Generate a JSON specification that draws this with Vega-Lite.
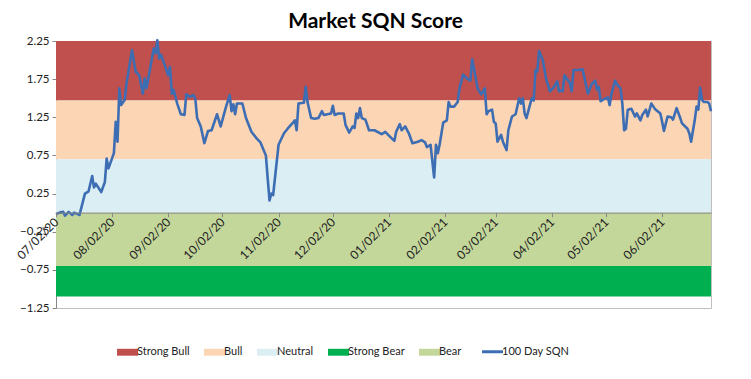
{
  "$schema": "https://vega.github.io/schema/vega-lite/v6.json",
  "width": 655,
  "height": 267,
  "autosize": {"type": "none"},
  "padding": {"left": 56, "top": 41, "right": 40, "bottom": 71},
  "background": "white",
  "config": {"font": "Lato", "view": {"stroke": "#BFBFBF"}},
  "title": {"text": "Market SQN Score", "fontSize": 21, "fontWeight": "bold", "color": "#000000", "offset": 3, "dx": -8},
  "datasets": {
    "bands": [
      {"zone": "Strong Bull", "top": 2.25, "bottom": 1.47},
      {"zone": "Bull", "top": 1.47, "bottom": 0.70},
      {"zone": "Neutral", "top": 0.70, "bottom": 0},
      {"zone": "Strong Bear", "top": -0.70, "bottom": -1.10},
      {"zone": "Bear", "top": 0, "bottom": -0.70}
    ],
    "sqn": [
      {"date": "2020-07-02", "sqn": -0.02}, {"date": "2020-07-04", "sqn": 0.00}, {"date": "2020-07-06", "sqn": 0.01},
      {"date": "2020-07-07", "sqn": -0.04}, {"date": "2020-07-09", "sqn": 0.01}, {"date": "2020-07-11", "sqn": -0.03},
      {"date": "2020-07-12", "sqn": 0.00}, {"date": "2020-07-14", "sqn": -0.02}, {"date": "2020-07-15", "sqn": -0.03},
      {"date": "2020-07-18", "sqn": 0.25}, {"date": "2020-07-20", "sqn": 0.28}, {"date": "2020-07-22", "sqn": 0.48},
      {"date": "2020-07-23", "sqn": 0.33}, {"date": "2020-07-24", "sqn": 0.38}, {"date": "2020-07-27", "sqn": 0.27},
      {"date": "2020-07-29", "sqn": 0.40}, {"date": "2020-07-30", "sqn": 0.71}, {"date": "2020-07-31", "sqn": 0.58},
      {"date": "2020-08-03", "sqn": 0.78}, {"date": "2020-08-04", "sqn": 1.19}, {"date": "2020-08-05", "sqn": 0.93},
      {"date": "2020-08-06", "sqn": 1.63}, {"date": "2020-08-07", "sqn": 1.41}, {"date": "2020-08-09", "sqn": 1.48},
      {"date": "2020-08-10", "sqn": 1.70}, {"date": "2020-08-13", "sqn": 2.13}, {"date": "2020-08-15", "sqn": 1.85},
      {"date": "2020-08-17", "sqn": 1.80}, {"date": "2020-08-19", "sqn": 1.56}, {"date": "2020-08-20", "sqn": 1.76},
      {"date": "2020-08-21", "sqn": 1.63}, {"date": "2020-08-23", "sqn": 1.89}, {"date": "2020-08-25", "sqn": 2.15},
      {"date": "2020-08-26", "sqn": 2.09}, {"date": "2020-08-27", "sqn": 2.26}, {"date": "2020-08-28", "sqn": 2.02},
      {"date": "2020-08-29", "sqn": 2.07}, {"date": "2020-08-31", "sqn": 1.94}, {"date": "2020-09-02", "sqn": 1.80},
      {"date": "2020-09-03", "sqn": 1.91}, {"date": "2020-09-04", "sqn": 1.56}, {"date": "2020-09-05", "sqn": 1.61},
      {"date": "2020-09-07", "sqn": 1.43}, {"date": "2020-09-09", "sqn": 1.29}, {"date": "2020-09-11", "sqn": 1.28},
      {"date": "2020-09-12", "sqn": 1.55}, {"date": "2020-09-14", "sqn": 1.52}, {"date": "2020-09-16", "sqn": 1.54},
      {"date": "2020-09-17", "sqn": 1.49}, {"date": "2020-09-18", "sqn": 1.24}, {"date": "2020-09-20", "sqn": 1.13},
      {"date": "2020-09-22", "sqn": 0.91}, {"date": "2020-09-24", "sqn": 1.07}, {"date": "2020-09-26", "sqn": 1.08},
      {"date": "2020-09-29", "sqn": 1.29}, {"date": "2020-10-01", "sqn": 1.13}, {"date": "2020-10-04", "sqn": 1.39},
      {"date": "2020-10-06", "sqn": 1.54}, {"date": "2020-10-07", "sqn": 1.33}, {"date": "2020-10-08", "sqn": 1.42},
      {"date": "2020-10-09", "sqn": 1.29}, {"date": "2020-10-10", "sqn": 1.43}, {"date": "2020-10-13", "sqn": 1.43},
      {"date": "2020-10-15", "sqn": 1.24}, {"date": "2020-10-18", "sqn": 1.06}, {"date": "2020-10-21", "sqn": 0.97},
      {"date": "2020-10-23", "sqn": 0.92}, {"date": "2020-10-26", "sqn": 0.75}, {"date": "2020-10-27", "sqn": 0.45},
      {"date": "2020-10-28", "sqn": 0.16}, {"date": "2020-10-29", "sqn": 0.25}, {"date": "2020-10-30", "sqn": 0.23},
      {"date": "2020-11-02", "sqn": 0.89}, {"date": "2020-11-05", "sqn": 1.04}, {"date": "2020-11-07", "sqn": 1.10},
      {"date": "2020-11-10", "sqn": 1.18}, {"date": "2020-11-11", "sqn": 1.21}, {"date": "2020-11-12", "sqn": 1.08},
      {"date": "2020-11-13", "sqn": 1.43}, {"date": "2020-11-16", "sqn": 1.44}, {"date": "2020-11-17", "sqn": 1.65},
      {"date": "2020-11-18", "sqn": 1.45}, {"date": "2020-11-20", "sqn": 1.24}, {"date": "2020-11-22", "sqn": 1.23},
      {"date": "2020-11-24", "sqn": 1.24}, {"date": "2020-11-26", "sqn": 1.33}, {"date": "2020-11-27", "sqn": 1.28},
      {"date": "2020-11-29", "sqn": 1.29}, {"date": "2020-12-01", "sqn": 1.30}, {"date": "2020-12-02", "sqn": 1.40},
      {"date": "2020-12-03", "sqn": 1.28}, {"date": "2020-12-05", "sqn": 1.30}, {"date": "2020-12-08", "sqn": 1.30},
      {"date": "2020-12-09", "sqn": 1.15}, {"date": "2020-12-11", "sqn": 1.05}, {"date": "2020-12-13", "sqn": 1.13},
      {"date": "2020-12-14", "sqn": 1.11}, {"date": "2020-12-15", "sqn": 1.30}, {"date": "2020-12-16", "sqn": 1.24},
      {"date": "2020-12-17", "sqn": 1.37}, {"date": "2020-12-18", "sqn": 1.24}, {"date": "2020-12-20", "sqn": 1.22},
      {"date": "2020-12-22", "sqn": 1.08}, {"date": "2020-12-25", "sqn": 1.08}, {"date": "2020-12-29", "sqn": 1.03},
      {"date": "2020-12-31", "sqn": 1.06}, {"date": "2021-01-02", "sqn": 1.01}, {"date": "2021-01-05", "sqn": 0.94},
      {"date": "2021-01-06", "sqn": 1.06}, {"date": "2021-01-08", "sqn": 1.16}, {"date": "2021-01-09", "sqn": 1.08},
      {"date": "2021-01-11", "sqn": 1.13}, {"date": "2021-01-13", "sqn": 1.04}, {"date": "2021-01-15", "sqn": 0.91},
      {"date": "2021-01-18", "sqn": 0.93}, {"date": "2021-01-20", "sqn": 0.95}, {"date": "2021-01-22", "sqn": 0.92},
      {"date": "2021-01-23", "sqn": 0.86}, {"date": "2021-01-25", "sqn": 0.89}, {"date": "2021-01-27", "sqn": 0.46},
      {"date": "2021-01-28", "sqn": 0.89}, {"date": "2021-01-29", "sqn": 0.78}, {"date": "2021-01-30", "sqn": 0.89},
      {"date": "2021-02-01", "sqn": 1.18}, {"date": "2021-02-03", "sqn": 1.21}, {"date": "2021-02-04", "sqn": 1.45},
      {"date": "2021-02-05", "sqn": 1.39}, {"date": "2021-02-07", "sqn": 1.39}, {"date": "2021-02-09", "sqn": 1.45},
      {"date": "2021-02-10", "sqn": 1.63}, {"date": "2021-02-12", "sqn": 1.81}, {"date": "2021-02-14", "sqn": 1.76},
      {"date": "2021-02-16", "sqn": 1.73}, {"date": "2021-02-17", "sqn": 2.01}, {"date": "2021-02-19", "sqn": 1.76},
      {"date": "2021-02-20", "sqn": 1.63}, {"date": "2021-02-22", "sqn": 1.55}, {"date": "2021-02-24", "sqn": 1.63},
      {"date": "2021-02-25", "sqn": 1.29}, {"date": "2021-02-26", "sqn": 1.33}, {"date": "2021-02-28", "sqn": 1.35},
      {"date": "2021-03-01", "sqn": 1.19}, {"date": "2021-03-02", "sqn": 1.17}, {"date": "2021-03-03", "sqn": 0.93},
      {"date": "2021-03-05", "sqn": 1.02}, {"date": "2021-03-06", "sqn": 0.93}, {"date": "2021-03-08", "sqn": 0.82},
      {"date": "2021-03-09", "sqn": 1.08}, {"date": "2021-03-11", "sqn": 1.26}, {"date": "2021-03-13", "sqn": 1.29},
      {"date": "2021-03-15", "sqn": 1.50}, {"date": "2021-03-16", "sqn": 1.43}, {"date": "2021-03-17", "sqn": 1.50},
      {"date": "2021-03-18", "sqn": 1.30}, {"date": "2021-03-19", "sqn": 1.24}, {"date": "2021-03-21", "sqn": 1.42},
      {"date": "2021-03-22", "sqn": 1.50}, {"date": "2021-03-23", "sqn": 1.47}, {"date": "2021-03-24", "sqn": 1.87},
      {"date": "2021-03-25", "sqn": 1.85}, {"date": "2021-03-26", "sqn": 2.12}, {"date": "2021-03-27", "sqn": 2.06},
      {"date": "2021-03-28", "sqn": 2.00}, {"date": "2021-03-30", "sqn": 1.74}, {"date": "2021-04-01", "sqn": 1.59},
      {"date": "2021-04-03", "sqn": 1.64}, {"date": "2021-04-05", "sqn": 1.72}, {"date": "2021-04-06", "sqn": 1.59},
      {"date": "2021-04-07", "sqn": 1.60}, {"date": "2021-04-08", "sqn": 1.59}, {"date": "2021-04-09", "sqn": 1.80},
      {"date": "2021-04-12", "sqn": 1.70}, {"date": "2021-04-13", "sqn": 1.59}, {"date": "2021-04-14", "sqn": 1.87},
      {"date": "2021-04-17", "sqn": 1.87}, {"date": "2021-04-19", "sqn": 1.88}, {"date": "2021-04-22", "sqn": 1.56},
      {"date": "2021-04-24", "sqn": 1.68}, {"date": "2021-04-26", "sqn": 1.73}, {"date": "2021-04-27", "sqn": 1.61},
      {"date": "2021-04-28", "sqn": 1.65}, {"date": "2021-04-29", "sqn": 1.46}, {"date": "2021-05-01", "sqn": 1.49},
      {"date": "2021-05-03", "sqn": 1.51}, {"date": "2021-05-04", "sqn": 1.41}, {"date": "2021-05-05", "sqn": 1.56},
      {"date": "2021-05-07", "sqn": 1.73}, {"date": "2021-05-08", "sqn": 1.68}, {"date": "2021-05-10", "sqn": 1.63},
      {"date": "2021-05-11", "sqn": 1.43}, {"date": "2021-05-12", "sqn": 1.08}, {"date": "2021-05-13", "sqn": 1.10},
      {"date": "2021-05-14", "sqn": 1.35}, {"date": "2021-05-16", "sqn": 1.36}, {"date": "2021-05-18", "sqn": 1.26},
      {"date": "2021-05-19", "sqn": 1.30}, {"date": "2021-05-21", "sqn": 1.21}, {"date": "2021-05-22", "sqn": 1.28},
      {"date": "2021-05-24", "sqn": 1.35}, {"date": "2021-05-25", "sqn": 1.26}, {"date": "2021-05-27", "sqn": 1.43},
      {"date": "2021-05-29", "sqn": 1.36}, {"date": "2021-06-01", "sqn": 1.30}, {"date": "2021-06-02", "sqn": 1.19},
      {"date": "2021-06-03", "sqn": 1.07}, {"date": "2021-06-05", "sqn": 1.26}, {"date": "2021-06-07", "sqn": 1.25},
      {"date": "2021-06-08", "sqn": 1.22}, {"date": "2021-06-10", "sqn": 1.37}, {"date": "2021-06-12", "sqn": 1.24},
      {"date": "2021-06-13", "sqn": 1.17}, {"date": "2021-06-16", "sqn": 1.10}, {"date": "2021-06-17", "sqn": 1.04},
      {"date": "2021-06-18", "sqn": 0.93}, {"date": "2021-06-20", "sqn": 1.21}, {"date": "2021-06-21", "sqn": 1.39},
      {"date": "2021-06-22", "sqn": 1.35}, {"date": "2021-06-23", "sqn": 1.64}, {"date": "2021-06-24", "sqn": 1.48},
      {"date": "2021-06-25", "sqn": 1.45}, {"date": "2021-06-27", "sqn": 1.45}, {"date": "2021-06-28", "sqn": 1.43},
      {"date": "2021-06-29", "sqn": 1.33}
    ]
  },
  "layer": [
    {
      "data": {"name": "bands"},
      "mark": {"type": "rect"},
      "encoding": {
        "y": {
          "field": "top", "type": "quantitative",
          "scale": {"domain": [-1.25, 2.25], "nice": false, "zero": false},
          "axis": {
            "title": null, "grid": false,
            "values": [-1.25, -0.75, -0.25, 0.25, 0.75, 1.25, 1.75, 2.25],
            "format": ".2f",
            "labelOverlap": false, "labelFlush": false,
            "domainColor": "#868686", "tickColor": "#868686", "tickSize": 4,
            "labelFontSize": 11.5, "labelColor": "#222222", "labelPadding": 3
          }
        },
        "y2": {"field": "bottom"},
        "color": {
          "field": "zone", "type": "nominal",
          "scale": {
            "domain": ["Strong Bull", "Bull", "Neutral", "Strong Bear", "Bear", "100 Day SQN"],
            "range": ["#C0504D", "#FCD5B5", "#DAEEF3", "#00B050", "#C4D79B", "#3D6DB3"]
          },
          "legend": {
            "title": null, "orient": "none", "legendX": 66, "legendY": 305, "direction": "horizontal",
            "columns": 6, "columnPadding": 14, "labelFontSize": 11, "labelColor": "#222222",
            "labelOffset": 4, "symbolSize": 440,
            "encode": {
              "symbols": {
                "update": {
                  "shape": {"signal": "datum.value === '100 Day SQN' ? 'stroke' : 'M-1,-0.33H1V0.33H-1Z'"},
                  "fill": {"signal": "datum.value === '100 Day SQN' ? 'transparent' : scale('color', datum.value)"},
                  "stroke": {"signal": "scale('color', datum.value)"},
                  "strokeWidth": {"signal": "datum.value === '100 Day SQN' ? 3 : 0"},
                  "opacity": {"value": 1}
                }
              }
            }
          }
        }
      }
    },
    {
      "data": {"name": "sqn"},
      "mark": {"type": "line", "strokeWidth": 2.6, "strokeJoin": "round"},
      "encoding": {
        "x": {
          "field": "date", "type": "temporal",
          "scale": {"type": "utc", "domain": [{"year": 2020, "month": 7, "date": 2, "utc": true}, {"year": 2021, "month": 6, "date": 29, "utc": true}], "nice": false},
          "axis": {
            "title": null, "grid": false, "offset": -95.36, "zindex": 1,
            "values": [
              {"year": 2020, "month": 7, "date": 2, "utc": true}, {"year": 2020, "month": 8, "date": 2, "utc": true},
              {"year": 2020, "month": 9, "date": 2, "utc": true}, {"year": 2020, "month": 10, "date": 2, "utc": true},
              {"year": 2020, "month": 11, "date": 2, "utc": true}, {"year": 2020, "month": 12, "date": 2, "utc": true},
              {"year": 2021, "month": 1, "date": 2, "utc": true}, {"year": 2021, "month": 2, "date": 2, "utc": true},
              {"year": 2021, "month": 3, "date": 2, "utc": true}, {"year": 2021, "month": 4, "date": 2, "utc": true},
              {"year": 2021, "month": 5, "date": 2, "utc": true}, {"year": 2021, "month": 6, "date": 2, "utc": true}
            ],
            "format": "%m/%d/%y",
            "labelAngle": -45, "labelAlign": "right", "labelBaseline": "middle",
            "labelFontSize": 12, "labelColor": "#222222", "labelPadding": 3,
            "labelOverlap": false, "labelFlush": false,
            "domainColor": "#868686", "tickColor": "#868686", "tickSize": 4
          }
        },
        "y": {
          "field": "sqn", "type": "quantitative",
          "axis": {
            "title": null, "grid": false,
            "values": [-1.25, -0.75, -0.25, 0.25, 0.75, 1.25, 1.75, 2.25],
            "format": ".2f",
            "labelOverlap": false, "labelFlush": false,
            "domainColor": "#868686", "tickColor": "#868686", "tickSize": 4,
            "labelFontSize": 11.5, "labelColor": "#222222", "labelPadding": 3
          }
        },
        "color": {"datum": "100 Day SQN", "type": "nominal"}
      }
    }
  ]
}
